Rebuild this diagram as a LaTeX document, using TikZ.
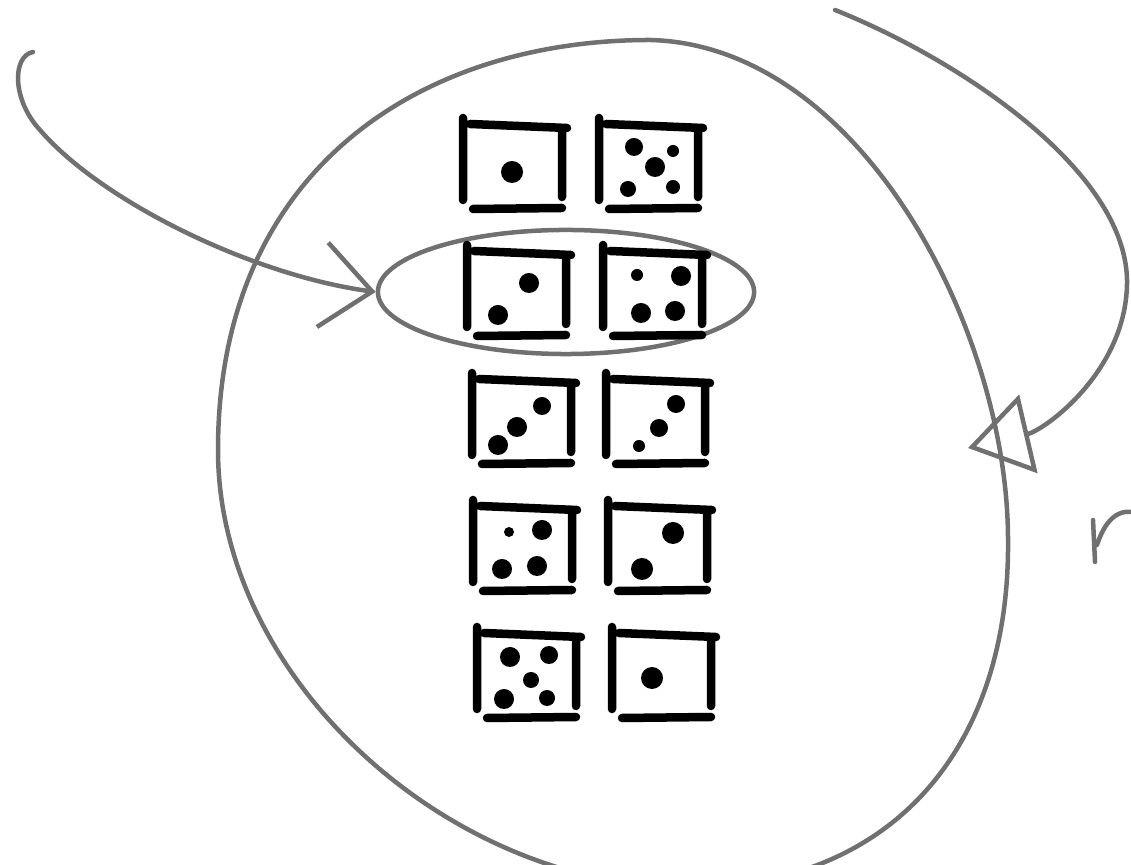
\documentclass[tikz,border=0pt]{standalone}
\usetikzlibrary{arrows.meta, shapes.geometric}
\definecolor{pencil-grey}{HTML}{707070}
\definecolor{ink}{HTML}{000000}

\begin{document}
\begin{tikzpicture}[x=0.01cm, y=-0.01cm,
    pencil/.style={draw=pencil-grey, line width=0.045cm, line cap=round, line join=round},
    dieline/.style={draw=ink, line width=0.085cm, line cap=round},
    pip/.style={fill=ink}]
  \useasboundingbox (0,0) rectangle (1131,865);
  \clip (0,0) rectangle (1131,865);

  % the big ring round all dice
  \draw[pencil] (650,40) .. controls (860,45) and (1008,330) .. (1008,540)
    .. controls (1010,740) and (900,885) .. (690,888)
    .. controls (450,888) and (218,680) .. (218,450)
    .. controls (218,170) and (420,40) .. cycle;

  % the circled pair (row 2)
  \node[pencil, ellipse, minimum width=3.76cm, minimum height=1.24cm] (pair) at (566,292) {};

  % dice frames
  \foreach \x/\y in {463/118, 599/118, 467/245, 603/245, 472/373, 606/373,
                     473/500, 608/500, 477/627, 612/627}
    \draw[dieline, shift={(\x,\y)}] (0,0) -- (0,82) (7,6) -- (104,10)
      (99,10) -- (99,79) (10,91) -- (99,90);

  % pips
  \foreach \x/\y/\r in {512/172/11,
      634/147/9, 673/151/6, 655/167/10, 628/189/8, 673/187/7,
      529/283/10, 498/315/10,
      637/275/6, 681/276/10, 641/313/10, 675/311/10,
      542/406/9, 517/427/10, 498/445/10,
      676/404/9, 659/428/9, 639/446/6,
      509/532/5, 542/530/10, 502/569/10, 537/566/10,
      673/533/11, 642/569/11,
      510/657/10, 549/655/9, 531/680/8, 504/699/10, 547/698/8,
      652/678/11}
    \fill[pip] (\x,\y) circle[radius=\r*0.01cm];

  % arrows
  \coordinate (hook) at (33,52);
  \coordinate (tail) at (835,10);
  \coordinate (ringtip) at (968,448);
  \draw[pencil, -{Straight Barb[length=0.5cm, width=0.85cm]}] (hook)
    .. controls (12,56) and (12,100) .. (40,130)
    .. controls (100,200) and (250,275) .. (pair.west);
  \draw[pencil, -{Triangle[open, length=0.62cm, width=0.8cm]}] (tail)
    .. controls (960,60) and (1125,170) .. (1127,280)
    .. controls (1128,370) and (1045,430) .. (ringtip);

  % stray mark on the right
  \draw[pencil] (1093,520) -- (1095,562)
    (1097,545) .. controls (1105,520) and (1118,510) .. (1131,512);
\end{tikzpicture}
\end{document}
